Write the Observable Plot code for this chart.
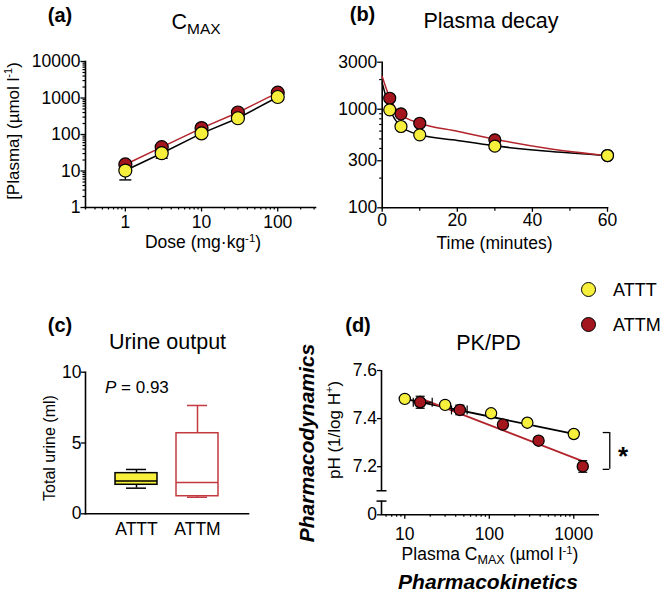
<!DOCTYPE html>
<html><head><meta charset="utf-8">
<script src="https://cdn.jsdelivr.net/npm/d3@7"></script>
<script src="https://cdn.jsdelivr.net/npm/@observablehq/plot@0.6"></script>
<style>
body{margin:0;background:#fff;}
#fig{position:relative;width:666px;height:596px;font-family:"Liberation Sans",Arial,Helvetica,sans-serif;color:#000;overflow:hidden;background:#fff}
.t{position:absolute;white-space:nowrap;line-height:1;transform:translate(-50%,-50%)}
.t sup{font-size:0.65em;vertical-align:0.55em;line-height:0}
.t sub{font-size:0.72em;vertical-align:-0.3em;line-height:0}
.lg{position:absolute;width:13px;height:13px;border-radius:50%;border:1.5px solid #000}
</style></head><body><div id="fig"></div><script>
// ---------------- DATA ----------------
// (a) C_MAX vs dose
const doses = [1, 3, 10, 30, 100];
const cmaxATTT = [10.3, 30.7, 107, 279, 1065];
const cmaxATTM = [15.1, 44.9, 150, 401, 1397];
const cmaxATTTLow = [5.7, 22.4, null, null, null];
const aYTicks = [1, 10, 100, 1000, 10000];
const aXTicks = [1, 10, 100];

// (b) plasma decay
const times = [2, 5, 10, 30, 60];
const decayATTT = [986, 668, 550, 422, 339];
const decayATTM = [1293, 898, 721, 489, 339];
const fitTimes = [0, 2, 5, 10, 20, 30, 45, 60];
const fitATTT = [1850, 1010, 668, 550, 482, 425, 372, 339];
const fitATTM = [2150, 1314, 884, 721, 598, 497, 396, 339];
const bYTicks = [100, 300, 1000, 3000];
const bYMinor = [200, 400, 500, 600, 700, 800, 900, 2000];
const bXTicks = [0, 20, 40, 60];
const bXMinor = [10, 30, 50];

// (c) urine output (box plot summaries)
const groups = ["ATTT", "ATTM"];
const urineMin = [1.81, 1.17];
const urineQ1 = [2.05, 1.24];
const urineMedian = [2.31, 2.21];
const urineQ3 = [2.87, 5.69];
const urineMax = [3.13, 7.65];
const cYTicks = [0, 5, 10];

// (d) PK/PD
const pkATTTx = [10, 30, 105, 282, 1000];
const pkATTTy = [7.482, 7.457, 7.422, 7.383, 7.336];
const pkATTMx = [15.2, 44.8, 145, 383, 1277];
const pkATTMy = [7.468, 7.436, 7.375, 7.308, 7.201];
const pkATTMxLo = [12.6, 35.7, null, null, null];
const pkATTMxHi = [21.1, 54.7, null, null, null];
const pkATTMyErr = [0.025, 0.02, 0, 0, 0.024];
const fitPkATTTx = [10, 1000], fitPkATTTy = [7.482, 7.336];
const fitPkATTMx = [15.3, 1292], fitPkATTMy = [7.484, 7.222];
const dYTicks = [7.0, 7.2, 7.4, 7.6];
const dXTicks = [10, 100, 1000];

// ---------------- STYLE ----------------
const FONT = "'Liberation Sans', Arial, Helvetica, sans-serif";
const YEL = "#f6ef3c", RED = "#a3161d", REDLINE = "#b3252c", BOXRED = "#c23a40";
const TICKFS = 17.5;
const fig = document.getElementById("fig");
const baseStyle = {fontFamily: FONT, fontSize: TICKFS + "px", background: "transparent", overflow: "visible", color: "#000"};

const hCap = {draw(ctx, size){ const r = Math.sqrt(size/Math.PI); ctx.moveTo(-r,0); ctx.lineTo(r,0);} };
const vCap = {draw(ctx, size){ const r = Math.sqrt(size/Math.PI); ctx.moveTo(0,-r); ctx.lineTo(0,r);} };

function logMinor(lo, hi){
  const t = [];
  for (let e = Math.floor(Math.log10(lo)); e <= Math.ceil(Math.log10(hi)); e++)
    for (let m = 2; m < 10; m++){ const v = m * Math.pow(10, e); if (v >= lo*0.999 && v <= hi*1.001) t.push(v); }
  return t;
}
function place(svg, left, top){
  svg.style.position = "absolute"; svg.style.left = left + "px"; svg.style.top = top + "px";
  fig.appendChild(svg);
}
function label(html, x, y, o = {}){
  const d = document.createElement("div");
  d.className = "t"; d.innerHTML = html;
  d.style.left = x + "px"; d.style.top = y + "px";
  d.style.fontSize = (o.size || 17.5) + "px";
  if (o.bold) d.style.fontWeight = "bold";
  if (o.italic) d.style.fontStyle = "italic";
  if (o.rotate) d.style.transform = `translate(-50%,-50%) rotate(${o.rotate}deg)`;
  if (o.left) d.style.transform = "translate(0,-50%)";
  fig.appendChild(d);
}
const ax = {label: null, fontSize: TICKFS, fontFamily: FONT};
const minorFmt = () => "";

// ---------------- (a) ----------------
const aData = doses.map((d, i) => ({dose: d, attt: cmaxATTT[i], attm: cmaxATTM[i], lo: cmaxATTTLow[i]}));
place(Plot.plot({
  width: 330, height: 260, marginLeft: 85, marginRight: 15, marginTop: 61, marginBottom: 53,
  style: baseStyle,
  x: {type: "log", domain: [0.3, 313], label: null},
  y: {type: "log", domain: [1, 10000], label: null},
  marks: [
    Plot.axisY({...ax, ticks: logMinor(1, 10000), tickSize: 2.5, tickFormat: minorFmt, strokeWidth: 1.2}),
    Plot.axisY({...ax, ticks: aYTicks, tickSize: 4.5, tickPadding: 0.5, tickFormat: d => String(d), strokeWidth: 1.3}),
    Plot.axisX({...ax, ticks: logMinor(0.3, 313), tickSize: 2.5, tickFormat: minorFmt, strokeWidth: 1.2}),
    Plot.axisX({...ax, ticks: aXTicks, tickSize: 4.5, tickPadding: 3.5, tickFormat: d => String(d), strokeWidth: 1.3}),
    Plot.frame({anchor: "left", strokeWidth: 1.6}),
    Plot.frame({anchor: "bottom", strokeWidth: 1.6}),
    Plot.ruleX(aData.filter(d => d.lo != null), {x: "dose", y1: "lo", y2: "attt", strokeWidth: 1.3}),
    Plot.dot(aData.filter(d => d.lo != null), {x: "dose", y: "lo", symbol: hCap, r: 6, stroke: "#000", strokeWidth: 1.4}),
    Plot.line(aData, {x: "dose", y: "attm", stroke: REDLINE, strokeWidth: 1.5}),
    Plot.line(aData, {x: "dose", y: "attt", stroke: "#000", strokeWidth: 1.5}),
    Plot.dot(aData, {x: "dose", y: "attm", r: 6.5, fill: RED, stroke: "#000", strokeWidth: 1.2}),
    Plot.dot(aData, {x: "dose", y: "attt", r: 6.5, fill: YEL, stroke: "#000", strokeWidth: 1.2})
  ]
}), 0, 0);

// ---------------- (b) ----------------
const bPts = times.map((t, i) => ({t, attt: decayATTT[i], attm: decayATTM[i]}));
const bFit = fitTimes.map((t, i) => ({t, attt: fitATTT[i], attm: fitATTM[i]}));
place(Plot.plot({
  width: 336, height: 260, marginLeft: 51.7, marginRight: 59, marginTop: 61.7, marginBottom: 52.7,
  style: baseStyle,
  x: {domain: [0, 60], label: null},
  y: {type: "log", domain: [100, 3000], label: null},
  marks: [
    Plot.axisY({...ax, ticks: bYMinor, tickSize: 2.5, tickFormat: minorFmt, strokeWidth: 1.2}),
    Plot.axisY({...ax, ticks: bYTicks, tickSize: 4.5, tickPadding: 0.5, tickFormat: d => String(d), strokeWidth: 1.3}),
    Plot.axisX({...ax, ticks: bXMinor, tickSize: 3.5, tickFormat: minorFmt, strokeWidth: 1.2}),
    Plot.axisX({...ax, ticks: bXTicks, tickSize: 4.5, tickPadding: 1.5, tickFormat: d => String(d), strokeWidth: 1.3}),
    Plot.frame({anchor: "left", strokeWidth: 1.6}),
    Plot.frame({anchor: "bottom", strokeWidth: 1.6}),
    Plot.line(bFit, {x: "t", y: "attt", stroke: "#000", strokeWidth: 1.5, curve: "monotone-x"}),
    Plot.line(bFit, {x: "t", y: "attm", stroke: REDLINE, strokeWidth: 1.5, curve: "monotone-x"}),
    Plot.dot(bPts, {x: "t", y: "attm", r: 6, fill: RED, stroke: "#000", strokeWidth: 1.2}),
    Plot.dot(bPts, {x: "t", y: "attt", r: 6, fill: YEL, stroke: "#000", strokeWidth: 1.2})
  ]
}), 330, 0);

// ---------------- (c) ----------------
const cData = groups.map((g, i) => ({g, min: urineMin[i], q1: urineQ1[i], med: urineMedian[i], q3: urineQ3[i], max: urineMax[i]}));
const cT = cData.filter(d => d.g === "ATTT"), cM = cData.filter(d => d.g === "ATTM");
function boxMarks(data, fill, stroke){
  return [
    Plot.ruleX(data, {x: "g", y1: "q3", y2: "max", stroke, strokeWidth: 1.5}),
    Plot.ruleX(data, {x: "g", y1: "min", y2: "q1", stroke, strokeWidth: 1.5}),
    Plot.tickY(data, {x: "g", y: "max", stroke, strokeWidth: 1.5, insetLeft: 11, insetRight: 11}),
    Plot.tickY(data, {x: "g", y: "min", stroke, strokeWidth: 1.5, insetLeft: 11, insetRight: 11}),
    Plot.barY(data, {x: "g", y1: "q1", y2: "q3", fill, stroke, strokeWidth: 1.5}),
    Plot.tickY(data, {x: "g", y: "med", stroke, strokeWidth: 1.5})
  ];
}
place(Plot.plot({
  width: 330, height: 270, marginLeft: 85, marginRight: 82, marginTop: 91.7, marginBottom: 36.7,
  style: baseStyle,
  x: {type: "band", domain: groups, range: [115.3, 218.5], paddingInner: 0.314, paddingOuter: 0, align: 0.5, label: null},
  y: {domain: [0, 10], label: null},
  marks: [
    Plot.axisY({...ax, ticks: cYTicks, tickSize: 4, tickPadding: 0, tickFormat: d => String(d), strokeWidth: 1.3}),
    Plot.axisX({...ax, tickSize: 0, tickPadding: 9}),
    Plot.frame({anchor: "left", strokeWidth: 1.6}),
    Plot.frame({anchor: "bottom", strokeWidth: 1.6}),
    ...boxMarks(cT, YEL, "#000"),
    ...boxMarks(cM, "none", BOXRED)
  ]
}), 0, 280);

// ---------------- (d) ----------------
const dT = pkATTTx.map((x, i) => ({x, y: pkATTTy[i]}));
const dM = pkATTMx.map((x, i) => ({x, y: pkATTMy[i], xlo: pkATTMxLo[i], xhi: pkATTMxHi[i], e: pkATTMyErr[i]}));
const dMx = dM.filter(d => d.xlo != null);
const dMy = dM.filter(d => d.e > 0).map(d => ({x: d.x, lo: d.y - d.e, hi: d.y + d.e}));
const fitT = fitPkATTTx.map((x, i) => ({x, y: fitPkATTTy[i]}));
const fitM = fitPkATTMx.map((x, i) => ({x, y: fitPkATTMy[i]}));
const dXDomain = [5.3, 1945];
place(Plot.plot({
  width: 366, height: 300, marginLeft: 81, marginRight: 68.3, marginTop: 100, marginBottom: 55.7,
  style: baseStyle,
  x: {type: "log", domain: dXDomain, label: null},
  y: {domain: [7.0, 7.6], label: null},
  marks: [
    Plot.axisY({...ax, ticks: dYTicks, tickSize: 4, tickPadding: 0.5, tickFormat: d => d === 7 ? "0" : d.toFixed(1), strokeWidth: 1.3}),
    Plot.axisX({...ax, ticks: logMinor(dXDomain[0], dXDomain[1]), tickSize: 2.5, tickFormat: minorFmt, strokeWidth: 1.2}),
    Plot.axisX({...ax, ticks: dXTicks, tickSize: 4.5, tickPadding: 8, tickFormat: d => String(d), strokeWidth: 1.3}),
    Plot.frame({anchor: "bottom", strokeWidth: 1.6}),
    // broken y axis
    Plot.ruleX([dXDomain[0]], {y1: 7.1, y2: 7.6, strokeWidth: 1.6}),
    Plot.ruleX([dXDomain[0]], {y1: 7.0, y2: 7.057, strokeWidth: 1.6}),
    Plot.dot([7.1, 7.057], {x: () => dXDomain[0], y: d => d, symbol: hCap, r: 5, stroke: "#000", strokeWidth: 1.5}),
    // significance bracket
    Plot.ruleX([2667], {y1: 7.189, y2: 7.342, strokeWidth: 1.3}),
    Plot.ruleY([7.189, 7.342], {x1: 2230, x2: 2667, strokeWidth: 1.3}),
    // fits
    Plot.line(fitT, {x: "x", y: "y", stroke: "#000", strokeWidth: 1.8}),
    Plot.line(fitM, {x: "x", y: "y", stroke: REDLINE, strokeWidth: 1.8}),
    // error bars
    Plot.ruleY(dMx, {y: "y", x1: "xlo", x2: "xhi", strokeWidth: 1.2}),
    Plot.dot(dMx, {x: "xlo", y: "y", symbol: vCap, r: 4.5, stroke: "#000", strokeWidth: 1.2}),
    Plot.dot(dMx, {x: "xhi", y: "y", symbol: vCap, r: 4.5, stroke: "#000", strokeWidth: 1.2}),
    Plot.ruleX(dMy, {x: "x", y1: "lo", y2: "hi", strokeWidth: 1.2}),
    Plot.dot(dMy, {x: "x", y: "hi", symbol: hCap, r: 4.5, stroke: "#000", strokeWidth: 1.2}),
    Plot.dot(dMy, {x: "x", y: "lo", symbol: hCap, r: 4.5, stroke: "#000", strokeWidth: 1.2}),
    Plot.dot(dT, {x: "x", y: "y", r: 5.6, fill: YEL, stroke: "#000", strokeWidth: 1.2}),
    Plot.dot(dM, {x: "x", y: "y", r: 5.6, fill: RED, stroke: "#000", strokeWidth: 1.2})
  ]
}), 300, 270);

// ---------------- TEXT ----------------
label("(a)", 60, 15, {size: 20, bold: true});
label("C<sub>MAX</sub>", 196, 23, {size: 21.5});
label("[Plasma] (µmol l<sup>-1</sup>)", 12.5, 131, {size: 17, rotate: -90});
label("Dose (mg·kg<sup>-1</sup>)", 203, 243);

label("(b)", 362.5, 14, {size: 20, bold: true});
label("Plasma decay", 491, 22, {size: 21.5});
label("Time (minutes)", 494.5, 244);

label("(c)", 60, 325, {size: 20, bold: true});
label("Urine output", 167.5, 343, {size: 21.5});
label("Total urine (ml)", 50, 448, {size: 16, rotate: -90});
label("<i>P</i> = 0.93", 105, 387, {size: 17, left: true});

label("(d)", 358, 325, {size: 20, bold: true});
label("PK/PD", 488.5, 344, {size: 21.5});
label("pH (1/log H<sup>+</sup>)", 333.5, 430, {size: 17, rotate: -90});
label("Pharmacodynamics", 306, 443, {size: 21, bold: true, italic: true, rotate: -90});
label("Plasma C<sub>MAX</sub> (µmol l<sup>-1</sup>)", 490, 555);
label("Pharmacokinetics", 488, 581, {size: 21, bold: true, italic: true});
label("*", 623, 456, {size: 26, bold: true});

// legend
[["ATTT", YEL, 290], ["ATTM", RED, 325]].forEach(([name, col, y]) => {
  const c = document.createElement("div");
  c.className = "lg"; c.style.background = col;
  c.style.left = (589.3 - 8) + "px"; c.style.top = (y - 8) + "px";
  fig.appendChild(c);
  label(name, 613, y, {size: 18, left: true});
});
</script></body></html>
